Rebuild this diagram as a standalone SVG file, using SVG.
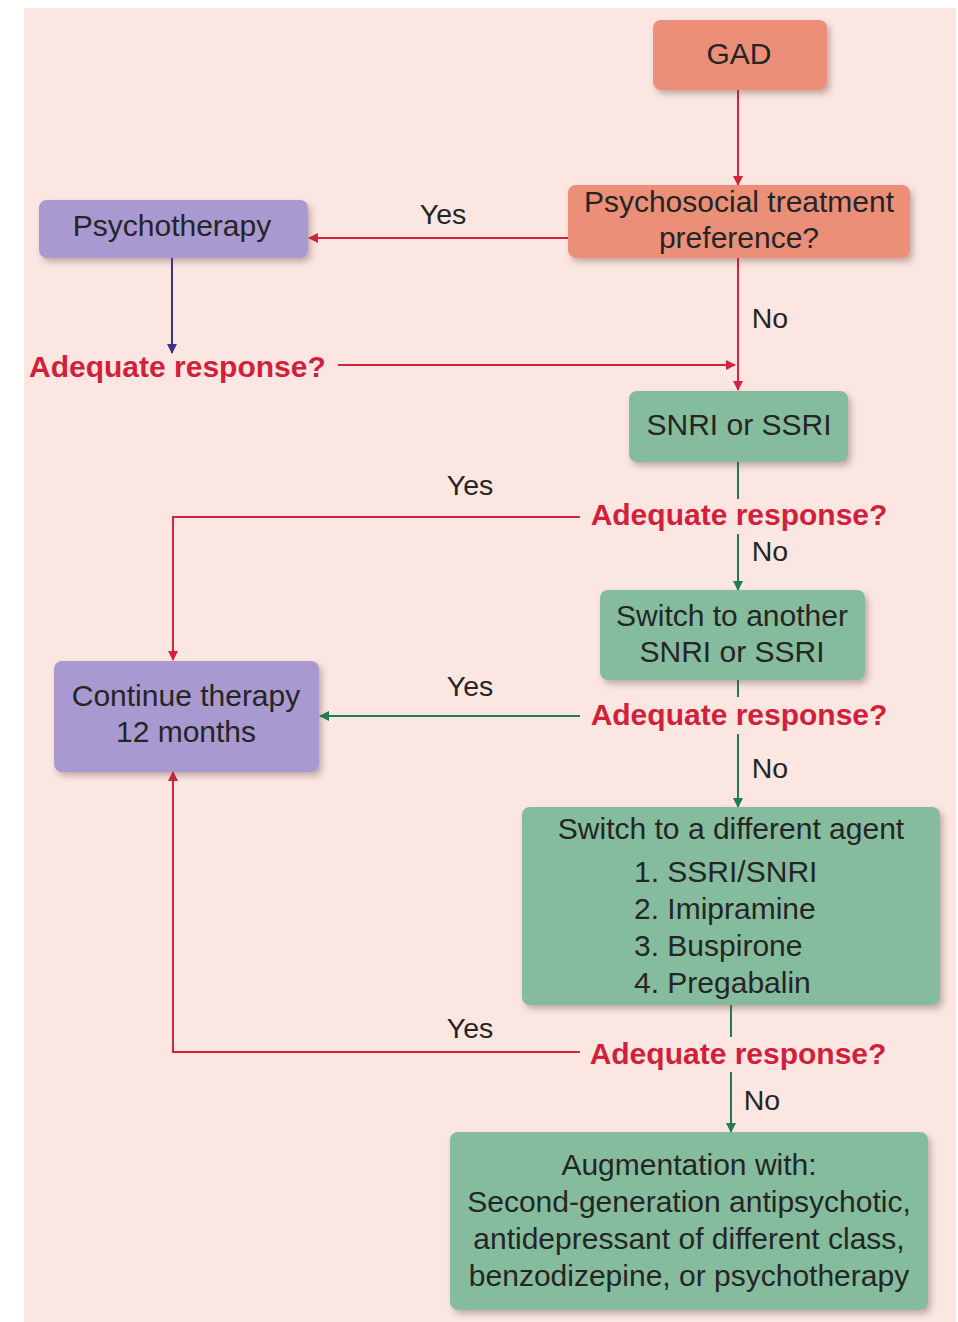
<svg xmlns="http://www.w3.org/2000/svg" width="958" height="1322" viewBox="0 0 958 1322">
<defs>
<filter id="sh" x="-10%" y="-10%" width="125%" height="130%">
<feDropShadow dx="3" dy="4" stdDeviation="3" flood-color="#5a3a3a" flood-opacity="0.35"/>
</filter>
<marker id="ar" viewBox="0 0 10 10" refX="9" refY="5" markerWidth="10" markerHeight="10" markerUnits="userSpaceOnUse" orient="auto"><path d="M0,0 L10,5 L0,10 z" fill="#d4233f"/></marker>
<marker id="ag" viewBox="0 0 10 10" refX="9" refY="5" markerWidth="10" markerHeight="10" markerUnits="userSpaceOnUse" orient="auto"><path d="M0,0 L10,5 L0,10 z" fill="#1e7d4e"/></marker>
<marker id="ap" viewBox="0 0 10 10" refX="9" refY="5" markerWidth="10" markerHeight="10" markerUnits="userSpaceOnUse" orient="auto"><path d="M0,0 L10,5 L0,10 z" fill="#3e3280"/></marker>
<style>
.t{font-family:"Liberation Sans",Arial,sans-serif;font-size:30px;fill:#252525;text-anchor:middle}
.q{font-family:"Liberation Sans",Arial,sans-serif;font-size:30px;font-weight:bold;fill:#d21f3c;text-anchor:middle}
.l{font-family:"Liberation Sans",Arial,sans-serif;font-size:28.5px;fill:#252525;text-anchor:middle}
.sal{fill:#eb8f79}
.pur{fill:#a899d0}
.grn{fill:#86bc9e}
.r{stroke:#d4233f;stroke-width:2;fill:none}
.g{stroke:#1e7d4e;stroke-width:2;fill:none}
.p{stroke:#3e3280;stroke-width:2;fill:none}
</style>
</defs>
<rect x="0" y="0" width="958" height="1322" fill="#ffffff"/>
<rect x="24" y="8" width="932" height="1314" fill="#fbe6e1"/>

<g id="connectors">
<line class="r" x1="738" y1="90" x2="738" y2="185" marker-end="url(#ar)"/>
<line class="r" x1="568" y1="238" x2="309" y2="238" marker-end="url(#ar)"/>
<line class="p" x1="172" y1="258" x2="172" y2="353" marker-end="url(#ap)"/>
<line class="r" x1="338" y1="365" x2="735" y2="365" marker-end="url(#ar)"/>
<line class="r" x1="738" y1="258" x2="738" y2="390" marker-end="url(#ar)"/>
<line class="g" x1="738" y1="462" x2="738" y2="499"/>
<line class="g" x1="738" y1="534" x2="738" y2="590" marker-end="url(#ag)"/>
<polyline class="r" points="580,517 173,517 173,660" marker-end="url(#ar)"/>
<line class="g" x1="738" y1="680" x2="738" y2="697"/>
<line class="g" x1="580" y1="716" x2="320" y2="716" marker-end="url(#ag)"/>
<line class="g" x1="738" y1="734" x2="738" y2="807" marker-end="url(#ag)"/>
<line class="g" x1="731" y1="1005" x2="731" y2="1037"/>
<polyline class="r" points="580,1052 173,1052 173,772" marker-end="url(#ar)"/>
<line class="g" x1="731" y1="1072" x2="731" y2="1132" marker-end="url(#ag)"/>
<text class="l" x="443" y="224">Yes</text>
<text class="l" x="770" y="328">No</text>
<text class="l" x="470" y="495">Yes</text>
<text class="l" x="770" y="561">No</text>
<text class="l" x="470" y="696">Yes</text>
<text class="l" x="770" y="778">No</text>
<text class="l" x="470" y="1038">Yes</text>
<text class="l" x="762" y="1110">No</text>
</g>

<g id="gad">
<rect class="sal" x="653" y="20" width="174" height="70" rx="8" filter="url(#sh)"/>
<text class="t" x="739" y="64">GAD</text>
</g>
<g id="psychosocial">
<rect class="sal" x="568" y="185" width="342" height="73" rx="8" filter="url(#sh)"/>
<text class="t" x="739" y="212">Psychosocial treatment</text>
<text class="t" x="739" y="248">preference?</text>
</g>
<g id="psychotherapy">
<rect class="pur" x="39" y="200" width="269" height="58" rx="8" filter="url(#sh)"/>
<text class="t" x="172" y="236">Psychotherapy</text>
</g>
<g id="q1">
<text class="q" x="29" y="377" style="text-anchor:start">Adequate response?</text>
</g>
<g id="snri">
<rect class="grn" x="629" y="391" width="219" height="71" rx="8" filter="url(#sh)"/>
<text class="t" x="739" y="435">SNRI or SSRI</text>
</g>
<g id="q2">
<text class="q" x="739" y="525">Adequate response?</text>
</g>
<g id="switch-another">
<rect class="grn" x="600" y="590" width="265" height="90" rx="8" filter="url(#sh)"/>
<text class="t" x="732" y="626">Switch to another</text>
<text class="t" x="732" y="662">SNRI or SSRI</text>
</g>
<g id="continue">
<rect class="pur" x="54" y="661" width="265" height="111" rx="8" filter="url(#sh)"/>
<text class="t" x="186" y="706">Continue therapy</text>
<text class="t" x="186" y="742">12 months</text>
</g>
<g id="q3">
<text class="q" x="739" y="725">Adequate response?</text>
</g>
<g id="switch-different">
<rect class="grn" x="522" y="807" width="418" height="198" rx="8" filter="url(#sh)"/>
<text class="t" x="731" y="839">Switch to a different agent</text>
<text class="t" x="634" y="882" style="text-anchor:start">1. SSRI/SNRI</text>
<text class="t" x="634" y="919" style="text-anchor:start">2. Imipramine</text>
<text class="t" x="634" y="956" style="text-anchor:start">3. Buspirone</text>
<text class="t" x="634" y="993" style="text-anchor:start">4. Pregabalin</text>
</g>
<g id="q4">
<text class="q" x="738" y="1064">Adequate response?</text>
</g>
<g id="augmentation">
<rect class="grn" x="450" y="1132" width="478" height="178" rx="8" filter="url(#sh)"/>
<text class="t" x="689" y="1175">Augmentation with:</text>
<text class="t" x="689" y="1212">Second-generation antipsychotic,</text>
<text class="t" x="689" y="1249">antidepressant of different class,</text>
<text class="t" x="689" y="1286">benzodizepine, or psychotherapy</text>
</g>
</svg>
